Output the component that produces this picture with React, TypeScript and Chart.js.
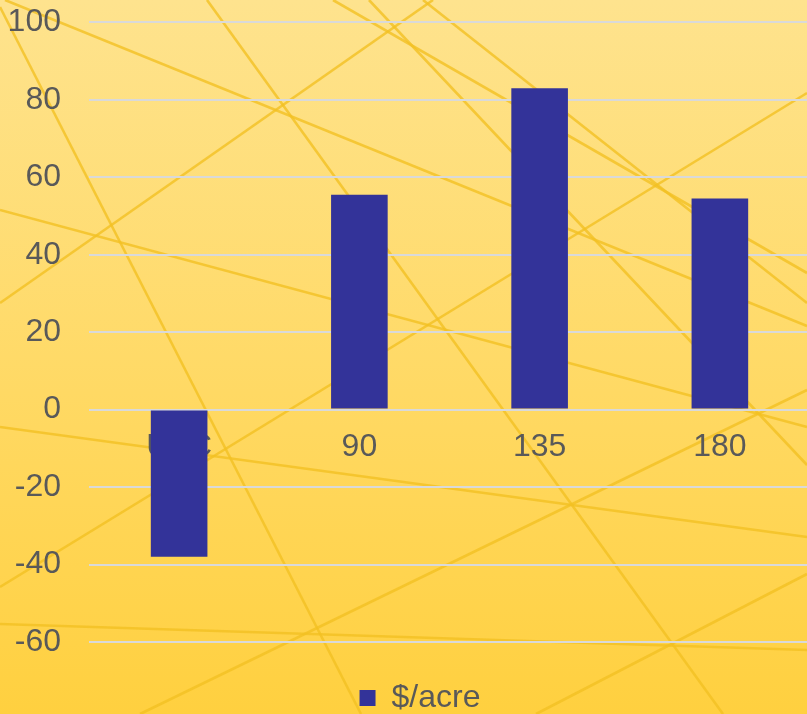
import React, { useEffect, useRef } from "react";
import { Chart, registerables } from "chart.js";

Chart.register(...registerables);

// ---- data ----
const categories = ["UTC", "90", "135", "180"];
const dollarsPerAcre = [-38, 55.5, 83, 54.5];
const seriesLabel = "$/acre";
const yMin = -60;
const yMax = 100;
const yStep = 20;

// ---- decoration (background texture lines, not data) ----
const decoLines: number[][] = [
  [0, 7, 361, 714],
  [5, 0, 807, 326],
  [207, 0, 723, 714],
  [0, 303, 433, 0],
  [0, 210, 807, 427],
  [333, 0, 807, 273],
  [369, 0, 807, 465],
  [423, 0, 807, 303],
  [0, 587, 807, 93],
  [0, 427, 807, 537],
  [140, 714, 807, 390],
  [0, 624, 807, 650],
  [536, 714, 807, 574],
];

const FONT = "'Liberation Sans', Arial, Helvetica, sans-serif";
const TEXT = "#595959";
const BAR = "#333399";
const GRID = "#D9D9D9";

const bgPlugin = {
  id: "pptBackground",
  beforeDraw(chart: any) {
    const { ctx } = chart;
    ctx.save();
    const g = ctx.createLinearGradient(0, 0, 0, 714);
    g.addColorStop(0, "#FEE38E");
    g.addColorStop(0.5, "#FFDA68");
    g.addColorStop(1, "#FFD03F");
    ctx.fillStyle = g;
    ctx.fillRect(0, 0, chart.width, chart.height);
    ctx.lineWidth = 2.6;
    ctx.strokeStyle = "rgba(243,192,35,0.8)";
    for (const [x1, y1, x2, y2] of decoLines) {
      ctx.beginPath();
      ctx.moveTo(x1, y1);
      ctx.lineTo(x2, y2);
      ctx.stroke();
    }
    ctx.restore();
  },
};

// shift the legend slightly right, as in the original slide
const legendShift = {
  id: "legendShift",
  afterLayout(chart: any) {
    if (chart.legend) {
      chart.legend.left += 30;
    }
  },
};

export default function App() {
  const ref = useRef<HTMLCanvasElement | null>(null);

  useEffect(() => {
    if (!ref.current) return;
    const chart = new Chart(ref.current, {
      type: "bar",
      data: {
        labels: categories,
        datasets: [
          {
            label: seriesLabel,
            data: dollarsPerAcre,
            backgroundColor: BAR,
            borderWidth: 0,
            categoryPercentage: 1,
            barPercentage: 0.314,
          },
        ],
      },
      options: {
        responsive: false,
        animation: false,
        layout: { padding: 0 },
        plugins: {
          legend: {
            position: "bottom",
            labels: {
              boxWidth: 16,
              boxHeight: 16,
              padding: 40,
              color: TEXT,
              font: { family: FONT, size: 32 },
            },
          },
          tooltip: { enabled: false },
        },
        scales: {
          x: {
            position: { y: 0 } as any,
            z: 1,
            grid: { display: false, drawTicks: false },
            border: { display: false },
            ticks: {
              color: TEXT,
              padding: 18,
              font: { family: FONT, size: 32 },
            },
          },
          y: {
            min: yMin,
            max: yMax,
            afterFit: (s: any) => {
              s.width = 89;
              s.paddingTop = 22.3;
            },
            grid: { color: GRID, lineWidth: 2, drawTicks: false },
            border: { display: false },
            ticks: {
              stepSize: yStep,
              color: TEXT,
              padding: 28,
              font: { family: FONT, size: 32 },
            },
          },
        },
      },
      plugins: [bgPlugin, legendShift],
    });
    return () => chart.destroy();
  }, []);

  return (
    <div
      style={{
        position: "absolute",
        left: 0,
        top: 0,
        width: 807,
        height: 714,
        overflow: "hidden",
      }}
    >
      <canvas ref={ref} width={810} height={724} style={{ display: "block" }} />
    </div>
  );
}
